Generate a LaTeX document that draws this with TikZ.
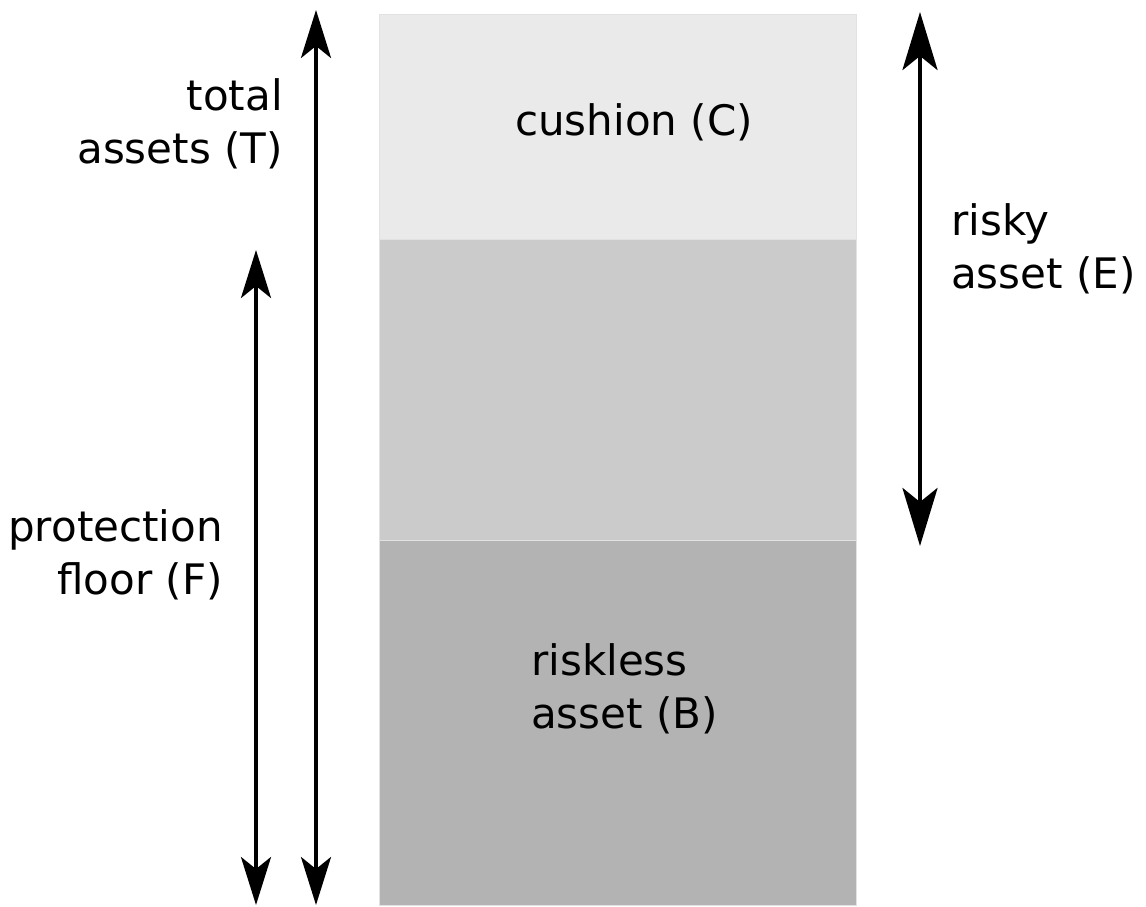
\documentclass[tikz,border=0pt]{standalone}
\usepackage{fontspec}
\setmainfont{DejaVu Sans}
\usetikzlibrary{arrows.meta}
\definecolor{cushionc}{HTML}{EAEAEA}
\definecolor{riskyc}{HTML}{CBCBCB}
\definecolor{risklessc}{HTML}{B3B3B3}
\definecolor{edgec}{HTML}{E2E2E2}
\tikzset{
  lbl/.style={inner sep=0pt, font=\fontsize{42}{53}\selectfont, text=black},
  dimarrow/.style={line width=3.5pt, {Stealth[length=48pt,width=30pt,inset=12pt]}-{Stealth[length=48pt,width=30pt,inset=12pt]}},
  bigarrow/.style={line width=4.5pt, {Stealth[length=58pt,width=35pt,inset=14pt]}-{Stealth[length=58pt,width=35pt,inset=14pt]}},
  band/.style={draw=edgec, line width=1pt}
}
\begin{document}
\begin{tikzpicture}[x=1pt,y=-1pt]
\useasboundingbox (0,0) rectangle (1146,907);
% stacked bar
\filldraw[band, fill=cushionc] (379,15) rectangle (856,239);
\filldraw[band, fill=riskyc] (379,239) rectangle (856,540);
\filldraw[band, fill=risklessc] (379,540) rectangle (856,905);
% arrow end points
\coordinate (Ttop) at (316,10);
\coordinate (Tbot) at (316,905);
\coordinate (Ftop) at (256,250);
\coordinate (Fbot) at (256,905);
\coordinate (Etop) at (920,12);
\coordinate (Ebot) at (920,546);
\draw[dimarrow] (Ttop) -- (Tbot);
\draw[dimarrow] (Ftop) -- (Fbot);
\draw[bigarrow] (Etop) -- (Ebot);
% labels (base anchor = last line's baseline)
\node[lbl, align=right, anchor=base east] (tl) at (283,163) {total\\assets (T)};
\node[lbl, align=right, anchor=base east] (fl) at (223,594) {protection\\floor (F)};
\node[lbl, anchor=base] (cl) at (634,135) {cushion (C)};
\node[lbl, align=left, anchor=base west] (bl) at (531,728) {riskless\\asset (B)};
\node[lbl, align=left, anchor=base west] (el) at (951,288) {risky\\asset (E)};
\end{tikzpicture}
\end{document}
